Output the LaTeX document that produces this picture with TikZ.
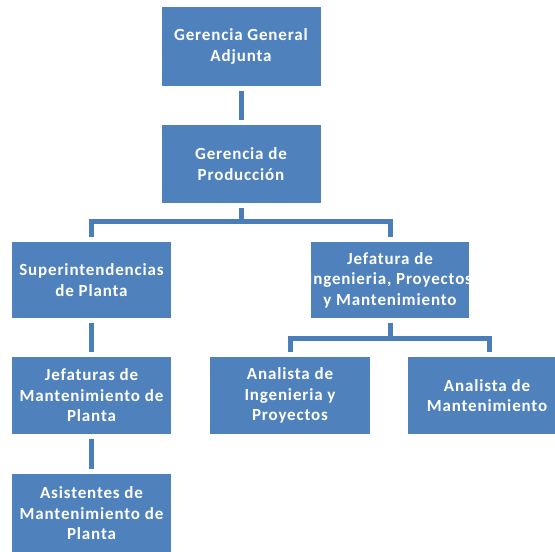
\documentclass[tikz,border=0pt]{standalone}
\usepackage{fontspec}
\setmainfont{Carlito}
\definecolor{boxblue}{HTML}{4F81BD}
\definecolor{linkblue}{HTML}{4A7EBB}
\tikzset{
  unit/.style={rectangle, fill=boxblue, draw=none, text=white,
    minimum width=159pt, minimum height=77pt, inner xsep=0pt, align=center,
    font=\fontsize{17pt}{20.5pt}\selectfont\bfseries\addfontfeature{LetterSpace=5}},
  conn/.style={draw=linkblue, line width=5pt, shorten <=4.5pt, shorten >=4.5pt}
}
\begin{document}
\begin{tikzpicture}[x=1pt, y=-1pt]
  \useasboundingbox (0,0) rectangle (555,552);
  \clip (0,0) rectangle (555,552);

  % boxes
  \node[unit, minimum height=79pt] (gga) at (241,46.5) {Gerencia General\\Adjunta};
  \node[unit, minimum height=78pt] (gp)  at (241,164)  {Gerencia de\\Producción};
  \node[unit, minimum height=76pt] (sp)  at (91.5,280) {Superintendencias\\de Planta};
  \node[unit, minimum height=76pt, minimum width=158pt] (jip) at (390,280)
       {Jefatura de\\\makebox[150pt][c]{Ingenieria, Proyectos}\\y Mantenimiento};
  \node[unit] (jmp) at (91.5,395.5) {Jefaturas de\\Mantenimiento de\\Planta};
  \node[unit, minimum height=79pt] (amp) at (91.5,513.5) {Asistentes de\\Mantenimiento de\\Planta};
  \node[unit, minimum width=160pt] (aip) at (290,395.5) {Analista de\\Ingenieria y\\Proyectos};
  \node[unit, minimum width=158pt] (am)  at (487,395.5) {Analista de\\Mantenimiento};

  % connectors
  \draw[conn] (gga.south) -- (gp.north);
  \draw[conn] (gp.south) -- ++(0,18) -| (sp.north);
  \draw[conn] (gp.south) -- ++(0,18) -| (jip.north);
  \draw[conn] (sp.south) -- (jmp.north);
  \draw[conn] (jmp.south) -- (amp.north);
  \draw[conn] (jip.south) -- ++(0,20) -| (aip.north);
  \draw[conn] (jip.south) -- ++(0,20) -| ([xshift=2pt]am.north);
\end{tikzpicture}
\end{document}
